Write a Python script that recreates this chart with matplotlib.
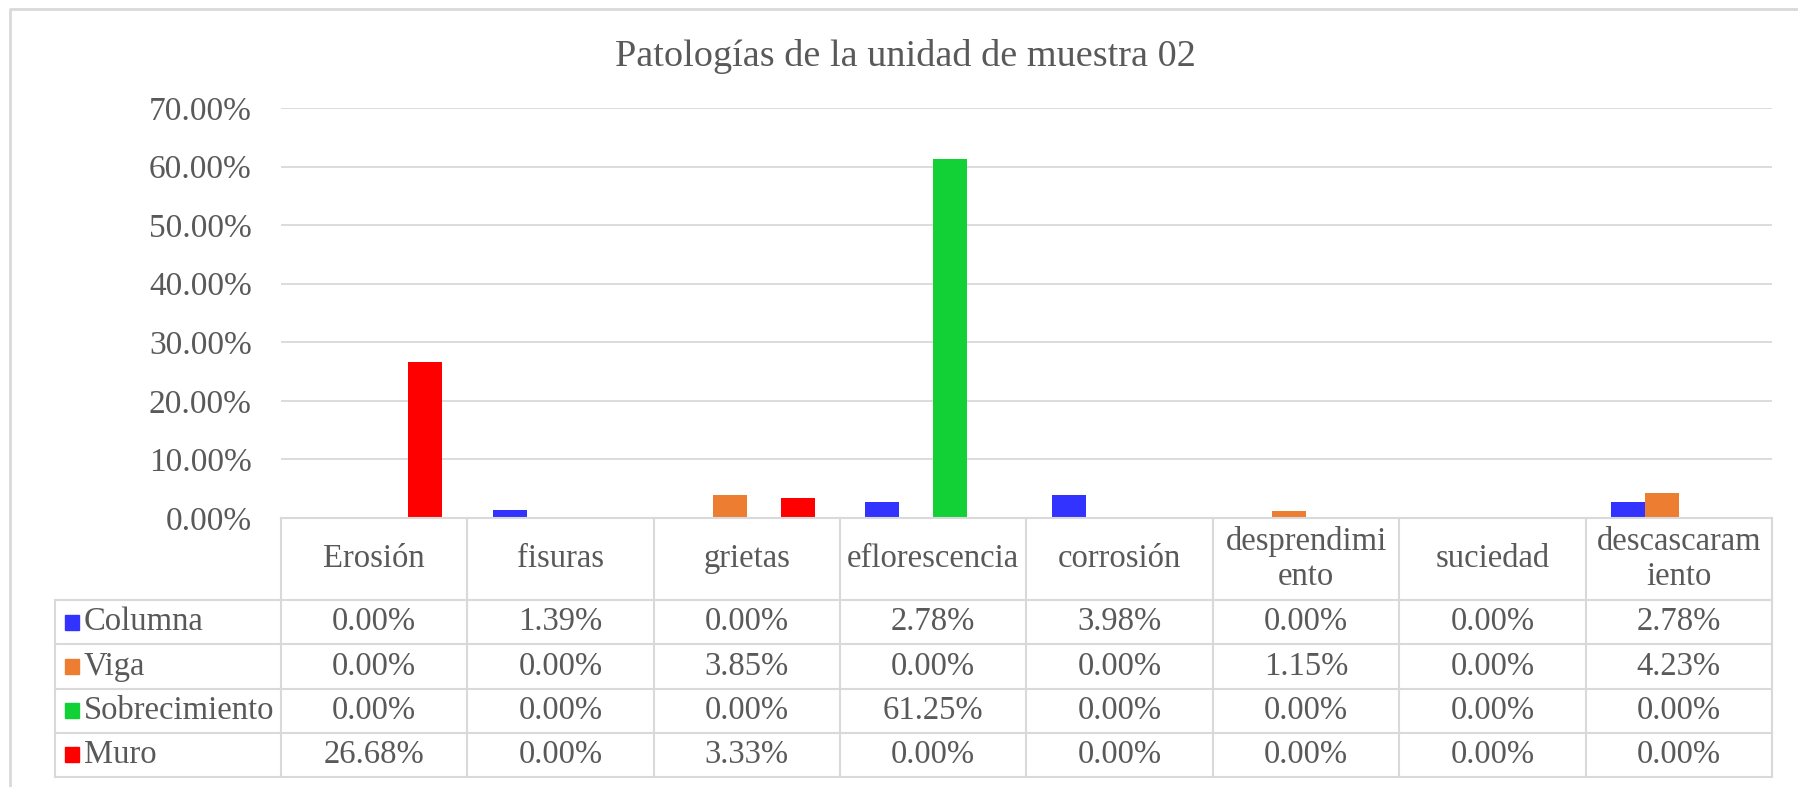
import numpy as np
import matplotlib
matplotlib.use("Agg")
import matplotlib.pyplot as plt
from matplotlib.patches import Rectangle
from matplotlib.lines import Line2D

plt.rcParams['font.family'] = ['Liberation Serif', 'DejaVu Serif']

# datos
categorias = ['Erosión', 'fisuras', 'grietas', 'eflorescencia', 'corrosión',
              'desprendimi\nento', 'suciedad', 'descascaram\niento']
series = ['Columna', 'Viga', 'Sobrecimiento', 'Muro']
columna = [0.00, 1.39, 0.00, 2.78, 3.98, 0.00, 0.00, 2.78]
viga = [0.00, 0.00, 3.85, 0.00, 0.00, 1.15, 0.00, 4.23]
sobrecimiento = [0.00, 0.00, 0.00, 61.25, 0.00, 0.00, 0.00, 0.00]
muro = [26.68, 0.00, 3.33, 0.00, 0.00, 0.00, 0.00, 0.00]
colores = ['#3333FF', '#ED7D31', '#12D136', '#FF0000']
titulo = 'Patologías de la unidad de muestra 02'

valores = [columna, viga, sobrecimiento, muro]
gris = '#595959'
linea = '#D9D9D9'
fs = 23.5

W, H = 1799, 787
fig = plt.figure(figsize=(W / 100, H / 100), dpi=100)

# marco exterior (recortado: solo izquierda y arriba)
fig.lines.append(Line2D([10 / W, 10 / W, 1], [0, 1 - 9 / H, 1 - 9 / H],
                        transform=fig.transFigure, color=linea, linewidth=2))

fig.text(905 / W, 1 - 56 / H, titulo, ha='center', va='center', fontsize=27.5, color=gris)

# grafico de barras
x0, x1, ytop, ybot = 281, 1772, 108, 518
ax = fig.add_axes([x0 / W, 1 - ybot / H, (x1 - x0) / W, (ybot - ytop) / H])
x = np.arange(len(categorias))
w = 0.182
for k, (vals, c) in enumerate(zip(valores, colores)):
    ax.bar(x + (k - 1.5) * w, vals, w, color=c, zorder=3)
ax.set_xlim(-0.5, len(categorias) - 0.5)
ax.set_ylim(0, 70)
ticks = np.arange(0, 71, 10)
ax.set_yticks(ticks)
ax.set_yticklabels([f'{t:.2f}%' for t in ticks], fontsize=24, color=gris)
ax.tick_params(axis='y', length=0, pad=21)
ax.set_xticks([])
ax.grid(axis='y', color=linea, linewidth=1.3, zorder=0)
for s in ax.spines.values():
    s.set_visible(False)

# tabla de datos
tx0, tybot = 55, 777
cw = (x1 - x0) / len(categorias)
lw = (x0 - tx0) / cw
tax = fig.add_axes([tx0 / W, 1 - tybot / H, (x1 - tx0) / W, (tybot - ybot) / H])
tax.set_xlim(-0.5 - lw, len(categorias) - 0.5)
alto = tybot - ybot
tax.set_ylim(alto, 0)
tax.axis('off')

hdr = 82
fila = (alto - hdr) / len(series)
kw = dict(color=linea, linewidth=1.5, clip_on=False)
tax.plot([-0.5, len(categorias) - 0.5], [0, 0], **kw)
for r in range(len(series) + 1):
    yy = hdr + r * fila
    tax.plot([-0.5 - lw, len(categorias) - 0.5], [yy, yy], **kw)
tax.plot([-0.5 - lw, -0.5 - lw], [hdr, alto], **kw)
for i in range(len(categorias) + 1):
    tax.plot([i - 0.5, i - 0.5], [0, alto], **kw)

for i, cat in enumerate(categorias):
    tax.text(i, hdr / 2, cat, ha='center', va='center', fontsize=fs,
             color=gris, linespacing=1.2)

for r, (nombre, vals, c) in enumerate(zip(series, valores, colores)):
    yc = hdr + (r + 0.5) * fila
    tax.add_patch(Rectangle((-0.5 - lw + 10 / cw, yc - 7.5), 14 / cw, 15, color=c))
    tax.text(-0.5 - lw + 29 / cw, yc, nombre, ha='left', va='center',
             fontsize=fs, color=gris)
    for i, v in enumerate(vals):
        tax.text(i, yc, f'{v:.2f}%', ha='center', va='center', fontsize=fs, color=gris)

fig.savefig('out.png', dpi=100, facecolor='white')
